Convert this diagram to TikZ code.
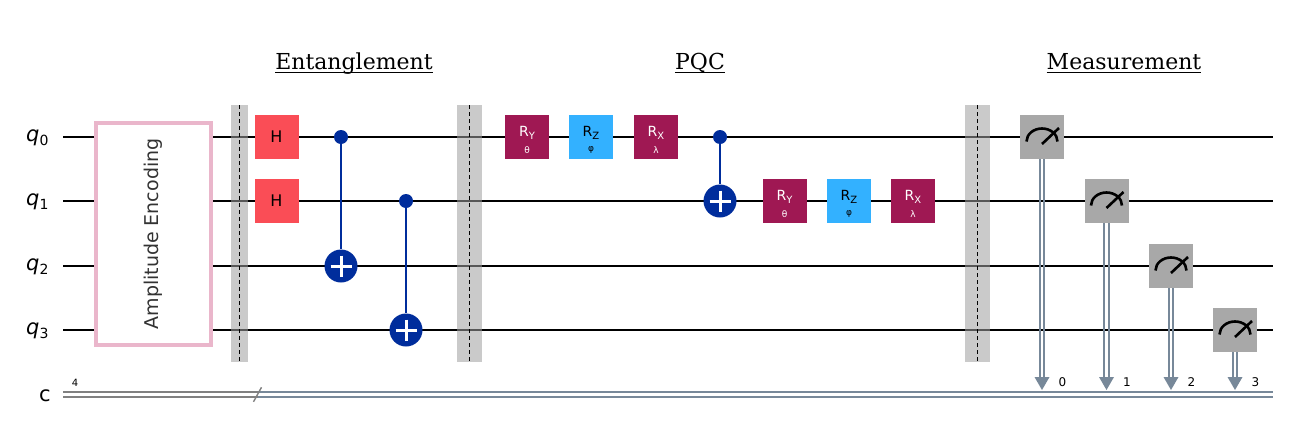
\documentclass[tikz,border=0pt]{standalone}
\usepackage{fontspec}
\setmainfont{DejaVu Sans}
\newfontfamily\titlefont{DejaVu Serif}
\definecolor{hcol}{HTML}{FA4D56}
\definecolor{rycol}{HTML}{9F1853}
\definecolor{rzcol}{HTML}{33B1FF}
\definecolor{cxcol}{HTML}{002D9C}
\definecolor{mcol}{HTML}{A8A8A8}
\definecolor{clcol}{HTML}{778899}
\definecolor{clgray}{HTML}{808080}
\definecolor{barcol}{HTML}{A0A0A0}
\definecolor{ampcol}{HTML}{EAB6CB}
\newcommand\rgate[7]{%
  \node[gate,fill=#4] (#1) at (#2,#3) {};
  \node[text=#5,inner sep=0pt,anchor=base] (#1t) at ([yshift=0.5pt]#1.center) {\fontsize{14}{14}\selectfont R\raisebox{-2.5pt}{\fontsize{10}{10}\selectfont #6}};
  \node[text=#5,inner sep=0pt] (#1g) at ([yshift=-13pt]#1.center) {\fontsize{9}{9}\selectfont #7};
}
\newcommand\mgate[3]{%
  \node[gate,fill=mcol] (#1) at (#2,#3) {};
  \draw[meter] ([shift={(-15.5,4.5)}]#1.center) arc[start angle=180,end angle=0,x radius=15.5pt,y radius=13pt];
  \draw[meter] ([shift={(0,7)}]#1.center) -- ([shift={(17,-9)}]#1.center);
}
\newcommand\qlab[3]{%
  \node[anchor=base west,inner sep=0pt] (#1) at (26,#2) {{\fontsize{21}{21}\selectfont\itshape q}\raisebox{-4pt}{\fontsize{14}{14}\selectfont #3}};
}
\begin{document}
\begin{tikzpicture}[x=1pt,y=-1pt,
  wire/.style={line width=2.8pt,black},
  gate/.style={minimum width=44pt,minimum height=44pt,inner sep=0pt,draw=none},
  meter/.style={line width=2.6pt,black},
  cbit/.style={line width=2.2pt,clcol},
  ctrl/.style={circle,fill=cxcol,minimum size=14pt,inner sep=0pt},
  targ/.style={circle,fill=cxcol,minimum size=33pt,inner sep=0pt},
  cxline/.style={line width=2.8pt,cxcol},
  plusln/.style={line width=3pt,white},
  barrier/.style={fill=barcol,fill opacity=0.55,draw=none},
  bdash/.style={line width=1.3pt,black,dash pattern=on 4pt off 3pt},
  title/.style={font=\titlefont\fontsize{22}{22}\selectfont,inner sep=0pt,anchor=base},
  uline/.style={line width=1.5pt,black}
]
\useasboundingbox (0,0) rectangle (1301,426);
\fill[white] (0,0) rectangle (1301,426);

% titles
\node[title] (t1) at (354,69) {Entanglement};
\node[title] (t2) at (700,69) {PQC};
\node[title] (t3) at (1124,69) {Measurement};
\foreach \t in {t1,t2,t3}{\draw[uline] ([yshift=-3.5pt]\t.base west) -- ([yshift=-3.5pt]\t.base east);}

% labels
\qlab{l0}{141}{0}
\qlab{l1}{205}{1}
\qlab{l2}{270}{2}
\qlab{l3}{334}{3}
\node[anchor=base west,inner sep=0pt] (lc) at (39,401) {\fontsize{21}{21}\selectfont c};
\node[anchor=base,inner sep=0pt] (l4) at (75,386) {\fontsize{10}{10}\selectfont 4};

% qubit wires
\foreach \i/\y in {0/137,1/201,2/266,3/330}{
  \coordinate (w\i s) at (63,\y);
  \coordinate (w\i e) at (1273,\y);
  \draw[wire] (w\i s) -- (w\i e);
}
% classical wire
\coordinate (cs) at (63,394.3);
\coordinate (cm) at (258,394.3);
\coordinate (ce) at (1273,394.3);
\draw[line width=2.2pt,clgray] ([yshift=2.3pt]cs) -- ([yshift=2.3pt]cm);
\draw[line width=2.2pt,clgray] ([yshift=-2.3pt]cs) -- ([yshift=-2.3pt]cm);
\draw[cbit] ([yshift=2.3pt]cm) -- ([yshift=2.3pt]ce);
\draw[cbit] ([yshift=-2.3pt]cm) -- ([yshift=-2.3pt]ce);
\draw[line width=1.4pt,clgray] ([shift={(-4.5,7.5)}]cm) -- ([shift={(3.5,-7)}]cm);

% amplitude encoding
\node[draw=ampcol,line width=4pt,fill=white,minimum width=115pt,minimum height=222pt,inner sep=0pt] (amp) at (153.5,234) {};
\node[rotate=90,text=black!80,inner sep=0pt] (ampt) at (amp.center) {\fontsize{19}{19}\selectfont Amplitude Encoding};

% barriers
\foreach \n/\a/\b in {b1/231/248,b2/457/482,b3/965/990}{
  \path[barrier] (\a,105) rectangle (\b,362);
  \coordinate (\n t) at ({(\a+\b)/2},105);
  \coordinate (\n b) at ({(\a+\b)/2},362);
  \draw[bdash] (\n t) -- (\n b);
}

% Entanglement
\node[gate,fill=hcol] (h0) at (276.5,137) {\fontsize{16}{16}\selectfont H};
\node[gate,fill=hcol] (h1) at (276.5,201) {\fontsize{16}{16}\selectfont H};

\node[ctrl] (c1) at (341,137) {};
\node[targ] (x1) at (341,266) {};
\draw[cxline] (c1) -- (x1);
\node[ctrl] (c2) at (406,201) {};
\node[targ] (x2) at (406,330) {};
\draw[cxline] (c2) -- (x2);

% PQC
\rgate{ry1}{527}{137}{rycol}{white}{Y}{θ}
\rgate{rz1}{591}{137}{rzcol}{black}{Z}{φ}
\rgate{rx1}{656}{137}{rycol}{white}{X}{λ}
\node[ctrl] (c3) at (720,137) {};
\node[targ] (x3) at (720,201) {};
\draw[cxline] (c3) -- (x3);
\rgate{ry2}{784.5}{201}{rycol}{white}{Y}{θ}
\rgate{rz2}{849}{201}{rzcol}{black}{Z}{φ}
\rgate{rx2}{913}{201}{rycol}{white}{X}{λ}

% plus signs on targets
\foreach \x in {x1,x2,x3}{
  \draw[plusln] ([shift={(-10.5,0)}]\x.center) -- ([shift={(10.5,0)}]\x.center);
  \draw[plusln] ([shift={(0,-10.5)}]\x.center) -- ([shift={(0,10.5)}]\x.center);
}

% measurement
\foreach \i/\x/\y in {0/1042/137,1/1106.5/201,2/1171/266,3/1235/330}{
  \coordinate (a\i) at (\x,390);
  \coordinate (ab\i) at (\x,378);
  \draw[cbit] ([shift={(-2.2,0)}]\x,\y) -- ([shift={(-2.2,0)}]ab\i);
  \draw[cbit] ([shift={(2.2,0)}]\x,\y) -- ([shift={(2.2,0)}]ab\i);
  \fill[clcol] (a\i) -- ([shift={(-7.5,-13)}]a\i) -- ([shift={(7.5,-13)}]a\i) -- cycle;
  \node[inner sep=0pt] (n\i) at ([shift={(20.5,-8)}]a\i) {\fontsize{12}{12}\selectfont \i};
}
\mgate{m0}{1042}{137}
\mgate{m1}{1106.5}{201}
\mgate{m2}{1171}{266}
\mgate{m3}{1235}{330}
\end{tikzpicture}
\end{document}
